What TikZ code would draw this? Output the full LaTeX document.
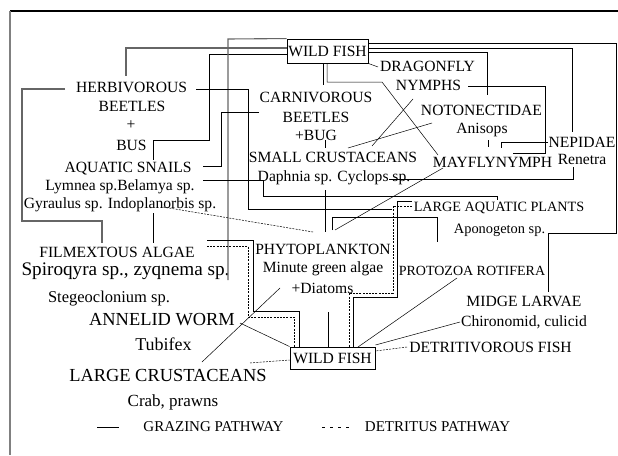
\documentclass[tikz,border=0pt]{standalone}
\usepackage{fontspec}
\setmainfont{Liberation Serif}
\tikzset{
  lbl/.style={inner sep=0pt, font=\fontsize{15.6}{18}\selectfont},
  fishbox/.style={draw, line width=0.9pt, inner sep=0pt, font=\fontsize{15.6}{18}\selectfont},
  wire/.style={line width=0.8pt},
  gwire/.style={line width=1.1pt, draw=black!60},
  fine/.style={line width=0.5pt},
  det/.style={line width=0.8pt, dash pattern=on 2pt off 1.2pt},
  framestyle/.style={line width=1.4pt, draw=black},
}
\begin{document}
\begin{tikzpicture}[x=1pt,y=-1pt]
\useasboundingbox (0,0) rectangle (618,455);
% frame
\coordinate (f0) at (10,11);
\coordinate (f1) at (618,11);
\coordinate (f2) at (10,455);
\draw[framestyle] (f0) -- (f1);
\draw[draw=black!50, line width=2.4pt] (f0) -- (f2);
% boxes
\node[fishbox, minimum width=81pt, minimum height=24pt] (wf1) at (327.5,51) {WILD FISH};
\node[fishbox, minimum width=85pt, minimum height=22pt] (wf2) at (332.5,358) {WILD FISH};
% labels
\node[lbl] (herb1) at (131.5,87.5) {HERBIVOROUS};
\node[lbl] (herb2) at (132,106.5) {BEETLES};
\node[lbl] (herb3) at (131,125) {+};
\node[lbl] (herb4) at (131.5,145) {BUS};
\node[lbl] (carn1) at (316,97) {CARNIVOROUS};
\node[lbl] (carn2) at (316,117) {BEETLES};
\node[lbl] (carn3) at (316,135) {+BUG};
\node[lbl] (drag1) at (427.5,66) {DRAGONFLY};
\node[lbl] (drag2) at (428.5,85.5) {NYMPHS};
\node[lbl] (noto1) at (481.5,110) {NOTONECTIDAE};
\node[lbl] (noto2) at (482,130) {Anisops};
\node[lbl] (nep1) at (582,142) {NEPIDAE};
\node[lbl] (nep2) at (582,159) {Renetra};
\node[lbl] (may) at (492.5,162.5) {MAYFLYNYMPH};
\node[lbl] (smc1) at (333,157.5) {SMALL CRUSTACEANS};
\node[lbl] (smc2) at (334,178) {Daphnia sp. Cyclops sp.};
\node[lbl] (snl1) at (128,169) {AQUATIC SNAILS};
\node[lbl] (snl2) at (120,187) {Lymnea sp.Belamya sp.};
\node[lbl] (snl3) at (120,205) {Gyraulus sp. Indoplanorbis sp.};
\node[lbl, font=\fontsize{14.2}{17}\selectfont] (lap1) at (499,207.5) {LARGE AQUATIC PLANTS};
\node[lbl, font=\fontsize{14.4}{17}\selectfont] (lap2) at (499.5,230) {Aponogeton sp.};
\node[lbl] (alg1) at (117,252.5) {FILMEXTOUS ALGAE};
\node[lbl, font=\fontsize{19.2}{22}\selectfont] (alg2) at (125.5,271) {Spiroqyra sp., zyqnema sp.};
\node[lbl, font=\fontsize{16.5}{19}\selectfont] (alg3) at (109,299) {Stegeoclonium sp.};
\node[lbl] (phy1) at (323,249) {PHYTOPLANKTON};
\node[lbl] (phy2) at (323,269) {Minute green algae};
\node[lbl] (phy3) at (322.5,288) {+Diatoms};
\node[lbl, font=\fontsize{14}{17}\selectfont] (pro) at (472,271) {PROTOZOA ROTIFERA};
\node[lbl] (mid1) at (524,301) {MIDGE LARVAE};
\node[lbl] (mid2) at (524,322) {Chironomid, culicid};
\node[lbl, font=\fontsize{18.4}{21}\selectfont] (ann1) at (162,319.5) {ANNELID WORM};
\node[lbl, font=\fontsize{18}{21}\selectfont] (ann2) at (163.5,344) {Tubifex};
\node[lbl] (det) at (490.5,347.5) {DETRITIVOROUS FISH};
\node[lbl, font=\fontsize{18.4}{21}\selectfont] (lc1) at (168,375) {LARGE CRUSTACEANS};
\node[lbl, font=\fontsize{17}{20}\selectfont] (lc2) at (173,402) {Crab, prawns};
\node[lbl, font=\fontsize{15}{18}\selectfont] (leg1) at (213.5,427) {GRAZING PATHWAY};
\node[lbl, font=\fontsize{15}{18}\selectfont] (leg2) at (437.5,427) {DETRITUS PATHWAY};
% free ends
\coordinate (e1) at (126,76);
\coordinate (e2) at (153,160);
\coordinate (e3) at (228,280);
\coordinate (e4) at (392,209);
\coordinate (e5) at (102,243);
\coordinate (e6) at (203,166);
\coordinate (e7) at (497,200);
\coordinate (e8a) at (163,207);
\coordinate (e8b) at (313,232);
\coordinate (e9a) at (153,213);
\coordinate (e9b) at (153,243);
% connectors from top fish
\draw[gwire] (wf1.west |- 0,48) -- (126,48) -- (e1);
\draw[wire] (wf1.west |- 0,54) -- (209,54) -- (209,140) -- (153,140) -- (e2);
\draw[gwire] (wf1.north west) -- (228,39) -- (e3);
\draw[wire] (wf1.east |- 0,43) -- (616,43) -- (616,233) -- (548,233) -- (548,292);
\draw[wire] (wf1.east |- 0,48) -- (572,48) -- (572,132);
\draw[wire] (wf1.east |- 0,52) -- (487,52) -- (487,95);
\draw[fine] (wf1.south east) -- (378,67);
\draw[wire] (wf1.south -| 323,0) -- (323,85);
\draw[fine] (wf1.south -| 327,0) -- (327,82) -- (382,82) -- (438,155);
% herbivorous beetles
\draw[wire] (196,89) -- (248,89) -- (248,209) -- (e4);
\draw[gwire] (65,89) -- (22,89) -- (22,221) -- (102,221) -- (e5);
% carnivorous
\draw[wire] (259,112) -- (221,112) -- (221,166) -- (e6);
\draw[wire] (325,140) -- (325,148);
% snails
\draw[wire] (203,180) -- (263,180) -- (263,196) -- (497,196) -- (e7);
\draw[det, line width=0.5pt] (e8a) -- (e8b);
\draw[wire] (e9a) -- (e9b);
% algae to fish
\draw[wire] (207,240) -- (253,240) -- (253,311) -- (299,311) -- (wf2.north -| 299,0);
\draw[det] (207,246) -- (248,246) -- (248,317) -- (294,317) -- (wf2.north -| 294,0);
% annelid / crustaceans
\draw[fine] (240,323) -- (wf2.north west);
\draw[det, line width=0.5pt] (250,363) -- (wf2.west |- 0,360);
\draw[fine] (202,362) -- (280,288);
% phytoplankton
\draw[wire] (328,312) -- (wf2.north -| 328,0);
\draw[wire] (325,190) -- (325,232);
\draw[wire] (332,230) -- (332,217) -- (437,217) -- (437,242);
\draw[fine] (443,168) -- (335,230);
% large aquatic plants
\draw[wire] (412,201) -- (397,201) -- (397,297) -- (353,297) -- (wf2.north -| 353,0);
\draw[det] (412,206) -- (393,206) -- (393,293) -- (349,293) -- (wf2.north -| 349,0);
% insects
\draw[wire] (468,86) -- (545,86) -- (545,153) -- (513,153);
\draw[wire] (488,140) -- (488,147);
\draw[wire] (548,142) -- (501,142) -- (501,148);
\draw[fine] (413,99) -- (372,146);
\draw[fine] (432,123) -- (348,148);
\draw[wire] (573,167) -- (573,179) -- (389,179);
% bottom fish
\draw[fine] (457,278) -- (358,347);
\draw[fine] (460,322) -- (wf2.east |- 0,345);
\draw[det, line width=0.5pt] (407,347) -- (wf2.east |- 0,351);
% legend
\coordinate (l1a) at (97,427);
\coordinate (l1b) at (119,427);
\coordinate (l2a) at (322,427);
\coordinate (l2b) at (352,427);
\draw[wire] (l1a) -- (l1b);
\draw[line width=0.8pt, dash pattern=on 3pt off 5pt] (l2a) -- (l2b);
\end{tikzpicture}
\end{document}
